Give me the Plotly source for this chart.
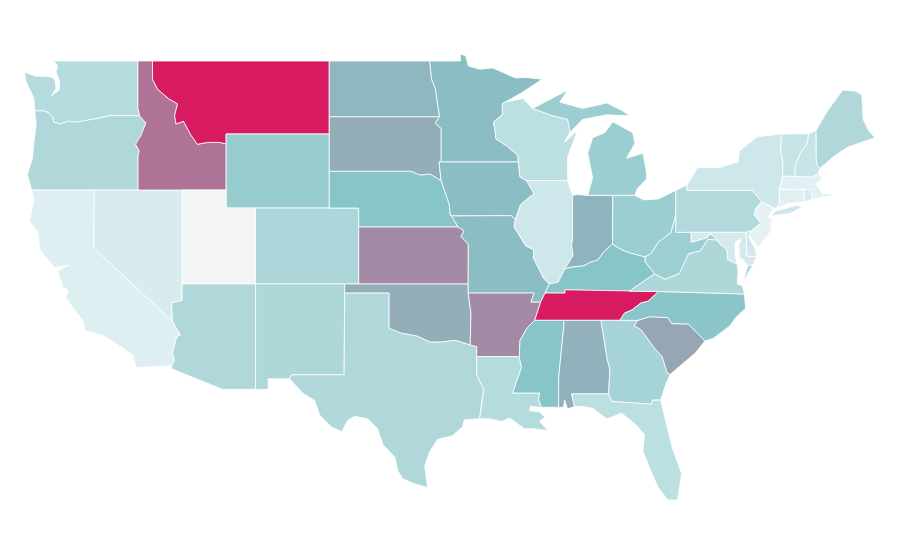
import numpy as np
import plotly.graph_objects as go
from plotly.colors import sample_colorscale

states = ['WA', 'OR', 'CA', 'NV', 'ID', 'MT', 'WY', 'UT', 'AZ', 'CO', 'NM', 'ND', 'SD', 'NE', 'KS', 'OK', 'TX',
          'MN', 'IA', 'MO', 'AR', 'LA', 'WI', 'IL', 'IN', 'MI', 'OH', 'KY', 'TN', 'MS', 'AL', 'GA', 'FL',
          'SC', 'NC', 'VA', 'WV', 'PA', 'NY', 'NJ', 'DE', 'MD', 'CT', 'RI', 'MA', 'VT', 'NH', 'ME']
values = [29, 31, 9, 12, 74, 100, 43, 0, 31, 33, 32, 54, 57, 50, 67, 57, 31,
          52, 52, 52, 67, 29, 25, 17, 55, 41, 41, 50, 100, 50, 56, 36, 25,
          59, 49, 32, 40, 30, 17, 6, 16, 14, 7, 14, 7, 20, 20, 31]

# the map's latitude spacing is not quite even, so latitudes go through this table
lat_marks = [25, 31, 37, 41, 42, 45, 49, 50]
lat_rows = [500, 393, 284, 208, 190, 134, 61, 43]

# shared borders, lon/lat
wa_or = [(-124.05, 46.27), (-123.45, 46.27), (-123.15, 46.18), (-122.85, 45.95), (-122.75, 45.65), (-122.3, 45.55),
         (-121.75, 45.7), (-121.2, 45.65), (-120.6, 45.73), (-119.95, 45.83), (-119.3, 45.93), (-118.98, 46.0), (-116.92, 46.0)]
or_id = [(-116.92, 46.0), (-116.5, 45.6), (-116.7, 45.2), (-116.85, 44.9), (-117.2, 44.45), (-117.05, 44.23),
         (-116.95, 44.1), (-117.03, 43.8), (-117.03, 42.0)]
id_mt = [(-116.05, 49.0), (-116.05, 48.0), (-115.7, 47.45), (-114.95, 46.93), (-114.35, 46.65), (-114.55, 46.0),
         (-114.45, 45.55), (-113.95, 45.7), (-113.45, 44.95), (-113.0, 44.45), (-112.3, 44.55), (-111.5, 44.55), (-111.05, 44.47)]
ca_az = [(-114.75, 32.5), (-114.55, 32.8), (-114.7, 33.2), (-114.4, 34.1), (-114.15, 34.2), (-114.45, 34.6), (-114.7, 34.95)]
tx_ok = [(-100.0, 34.56), (-99.2, 34.3), (-98.1, 34.13), (-97.2, 33.8), (-96.5, 33.8), (-95.5, 33.9), (-94.48, 33.64)]
ne_mo = [(-96.45, 42.49), (-96.1, 41.7), (-95.9, 41.2), (-95.85, 40.7), (-95.3, 40.0)]
ks_mo = [(-95.3, 40.0), (-94.9, 39.8), (-95.1, 39.5), (-94.61, 39.1), (-94.62, 37.0)]
tx_la = [(-94.04, 31.99), (-93.55, 31.2), (-93.7, 30.5), (-93.84, 29.55)]
ms_riv = [(-90.1, 35.0), (-90.6, 34.6), (-91.1, 33.9), (-91.15, 33.0)]
la_ms = [(-91.15, 33.0), (-91.0, 32.4), (-91.6, 31.0), (-89.75, 31.0), (-89.85, 30.65), (-89.65, 30.2)]
al_ga = [(-85.6, 35.0), (-85.18, 32.87), (-85.0, 32.3), (-85.05, 31.55), (-85.08, 30.95)]
ga_sc = [(-83.1, 35.0), (-83.35, 34.7), (-82.9, 34.5), (-82.0, 33.5), (-81.45, 33.0), (-81.1, 32.1), (-80.9, 32.03)]
nc_sc = [(-83.1, 35.0), (-82.3, 35.2), (-81.05, 35.15), (-80.8, 34.82), (-79.67, 34.8), (-78.55, 33.86)]
tn_nc = [(-84.32, 35.0), (-84.0, 35.4), (-83.5, 35.57), (-82.9, 35.95), (-82.4, 36.05), (-81.7, 36.59)]
mo_il = [(-91.42, 40.38), (-91.5, 40.0), (-90.7, 39.0), (-90.15, 38.8), (-90.2, 38.4), (-89.5, 37.3), (-89.1, 37.0)]
il_ky = [(-89.1, 37.0), (-88.5, 37.1), (-88.05, 37.8)]
in_ky = [(-88.05, 37.8), (-87.5, 37.9), (-86.8, 37.95), (-86.3, 38.15), (-85.8, 38.27), (-85.4, 38.7), (-84.85, 39.1)]
oh_ky = [(-84.85, 39.1), (-84.2, 38.8), (-83.65, 38.63), (-82.6, 38.42)]
oh_wv = [(-82.6, 38.42), (-82.2, 38.6), (-81.7, 39.2), (-80.85, 39.7), (-80.52, 40.64)]
ky_wv = [(-82.6, 38.42), (-82.6, 38.17), (-81.97, 37.54)]
wv_va = [(-81.97, 37.54), (-81.25, 37.25), (-80.3, 37.55), (-79.65, 38.6), (-78.85, 38.75), (-78.35, 39.35), (-77.72, 39.32)]
md_va = [(-77.72, 39.32), (-77.5, 39.1), (-77.05, 38.8), (-77.0, 38.3), (-76.35, 38.05)]
md_wv = [(-79.48, 39.72), (-79.48, 39.2), (-78.35, 39.45), (-78.2, 39.65), (-77.72, 39.32)]
ia_il = [(-90.65, 42.5), (-90.15, 41.8), (-91.05, 41.2), (-91.42, 40.38)]
mn_wi = [(-92.1, 46.75), (-92.3, 46.66), (-92.29, 46.07), (-92.9, 45.65), (-92.75, 45.0), (-92.75, 44.75), (-91.9, 44.3), (-91.25, 43.85), (-91.22, 43.5)]
ia_wi = [(-91.22, 43.5), (-91.1, 42.7), (-90.65, 42.5)]
wi_mi = [(-90.25, 46.4), (-88.88, 46.0), (-87.87, 45.8), (-87.73, 45.3), (-87.73, 45.07)]
sd_mn = [(-96.56, 45.94), (-96.85, 45.6), (-96.45, 45.3), (-96.45, 43.5)]
nd_mn = [(-97.23, 49.0), (-97.1, 48.0), (-96.85, 47.5), (-96.56, 45.94)]
ny_pa = [(-79.76, 41.99), (-75.35, 41.99), (-74.7, 41.36)]
pa_nj = [(-74.7, 41.36), (-75.1, 40.95), (-75.2, 40.65), (-74.75, 40.2), (-75.4, 39.8)]
ny_vt = [(-73.35, 45.0), (-73.4, 44.0), (-73.25, 43.6), (-73.27, 42.75)]
vt_nh = [(-71.5, 45.01), (-71.6, 44.5), (-72.05, 44.0), (-72.4, 43.3), (-72.46, 42.73)]


def rv(seg):
    return seg[::-1]


outlines = {
    'WA': [[(-117.04, 49.0), (-122.76, 49.0), (-122.5, 48.75), (-122.6, 48.4), (-122.35, 47.9), (-122.4, 47.4), (-122.9, 47.1),
            (-122.6, 47.5), (-122.65, 47.9), (-122.8, 48.1), (-123.2, 48.15), (-124.0, 48.17), (-124.73, 48.38),
            (-124.65, 47.9), (-124.3, 47.3), (-124.1, 46.95)] + wa_or + [(-117.04, 46.42)]],
    'OR': [rv(wa_or) + [(-123.95, 45.5), (-124.1, 44.6), (-124.2, 43.7), (-124.55, 42.84), (-124.25, 42.0), (-120.0, 42.0)] + rv(or_id)],
    'CA': [[(-120.0, 42.0), (-124.25, 42.0), (-124.1, 41.5), (-124.4, 40.3), (-123.85, 39.75), (-123.7, 38.8), (-122.7, 37.85),
            (-121.7, 38.0), (-122.5, 37.7), (-122.15, 36.85), (-121.8, 36.65), (-121.9, 36.2), (-120.8, 35.0),
            (-120.6, 34.4), (-119.5, 34.2), (-118.4, 33.65), (-117.4, 33.1), (-117.15, 32.4)] + ca_az + [(-120.05, 38.9)]],
    'NV': [[(-120.0, 42.0), (-114.04, 42.0), (-114.04, 36.1), (-114.75, 35.95), (-114.7, 34.95), (-120.05, 38.9)]],
    'ID': [[(-117.04, 49.0)] + id_mt + [(-111.05, 42.0), (-117.03, 42.0)] + rv(or_id) + [(-117.04, 46.42)]],
    'MT': [id_mt + [(-111.05, 45.0), (-104.05, 45.0), (-104.05, 49.0)]],
    'WY': [[(-111.05, 45.0), (-104.05, 45.0), (-104.05, 41.0), (-111.05, 41.0)]],
    'UT': [[(-114.04, 42.0), (-111.05, 42.0), (-111.05, 41.0), (-109.05, 41.0), (-109.05, 37.0), (-114.04, 37.0)]],
    'AZ': [[(-114.04, 37.0), (-109.05, 37.0), (-109.05, 31.2), (-111.3, 31.2), (-114.75, 32.33)] + ca_az + [(-114.75, 35.95), (-114.04, 36.1)]],
    'CO': [[(-109.05, 41.0), (-102.05, 41.0), (-102.05, 37.0), (-109.05, 37.0)]],
    'NM': [[(-109.05, 37.0), (-103.0, 37.0), (-103.04, 32.0), (-106.62, 32.0), (-106.74, 31.78), (-108.2, 31.78), (-108.2, 31.2), (-109.05, 31.2)]],
    'ND': [nd_mn + [(-104.05, 45.94), (-104.05, 49.0)]],
    'SD': [[(-104.05, 45.94)] + sd_mn + [(-96.6, 43.5), (-96.45, 42.49), (-97.2, 42.85), (-97.9, 42.8), (-98.5, 43.0), (-104.05, 43.0)]],
    'NE': [[(-104.05, 43.0), (-98.5, 43.0), (-97.9, 42.8), (-97.2, 42.85)] + ne_mo + [(-102.05, 40.0), (-102.05, 41.0), (-104.05, 41.0)]],
    'KS': [[(-102.05, 40.0)] + ks_mo + [(-102.05, 37.0)]],
    'OK': [[(-103.0, 37.0), (-94.62, 37.0), (-94.62, 36.5), (-94.43, 35.4)] + rv(tx_ok) + [(-100.0, 36.5), (-103.0, 36.5)]],
    'TX': [[(-103.0, 36.5), (-100.0, 36.5)] + tx_ok + [(-94.04, 33.55)] + tx_la +
           [(-94.87, 29.5), (-95.0, 29.1), (-95.7, 28.6), (-96.7, 28.4), (-97.24, 27.7), (-97.57, 26.9), (-97.37, 25.7), (-98.25, 25.9), (-99.06, 26.2),
            (-99.4, 26.65), (-99.6, 27.4), (-100.4, 28.1), (-100.77, 29.0), (-101.43, 29.54), (-102.3, 29.7), (-102.8, 29.47), (-103.2, 28.83),
            (-103.9, 29.1), (-104.7, 29.76), (-105.04, 30.58), (-105.86, 31.0), (-106.74, 31.78), (-106.62, 32.0), (-103.04, 32.0)]],
    'MN': [[(-97.23, 49.0), (-95.15, 49.0), (-95.15, 49.38), (-94.8, 49.3), (-94.6, 48.72), (-93.8, 48.55), (-92.95, 48.62), (-92.0, 48.3),
            (-91.4, 48.07), (-90.75, 48.1), (-89.6, 48.0), (-90.9, 47.3)] + mn_wi + rv(sd_mn) + rv(nd_mn)],
    'IA': [[(-96.45, 43.5), (-91.22, 43.5), (-91.1, 42.7)] + ia_il + [(-91.7, 40.6), (-95.77, 40.58), (-95.85, 40.7), (-95.9, 41.2), (-96.1, 41.7), (-96.45, 42.49), (-96.6, 43.5)]],
    'MO': [[(-95.77, 40.58), (-91.7, 40.6)] + mo_il + [(-89.4, 36.5), (-89.7, 36.0), (-90.37, 36.0), (-90.15, 36.5), (-94.62, 36.5)] + rv(ks_mo) + [(-95.85, 40.7)]],
    'AR': [[(-94.62, 36.5), (-90.15, 36.5), (-90.37, 36.0), (-89.7, 36.0)] + ms_riv + [(-94.04, 33.0), (-94.04, 33.55), (-94.48, 33.64), (-94.43, 35.4)]],
    'LA': [[(-94.04, 33.0)] + la_ms + [(-90.4, 30.25), (-90.45, 30.0), (-89.8, 29.95), (-89.4, 29.65), (-89.77, 29.4), (-89.2, 28.9), (-90.25, 29.0), (-90.8, 29.0),
                                       (-91.8, 29.6), (-92.35, 29.4), (-93.16, 29.55)] + rv(tx_la)],
    'WI': [[(-92.1, 46.75), (-90.9, 46.95)] + wi_mi + [(-88.07, 44.55), (-87.2, 45.2), (-87.87, 43.75), (-87.87, 42.5)] + rv(ia_wi) + rv(mn_wi)],
    'IL': [[(-90.65, 42.5), (-87.87, 42.5), (-87.55, 41.75), (-87.53, 41.7), (-87.53, 39.35), (-87.6, 39.1), (-87.5, 38.5), (-88.05, 37.8)] + rv(il_ky) + rv(mo_il) + rv(ia_il)],
    'IN': [[(-87.53, 41.7), (-87.2, 41.75), (-86.5, 41.7), (-84.8, 41.7), (-84.82, 39.1)] + rv(in_ky) + [(-87.5, 38.5), (-87.6, 39.1), (-87.53, 39.35)]],
    'MI': [[(-86.5, 41.7), (-84.8, 41.7), (-83.3, 41.7), (-83.15, 42.05), (-82.5, 42.6), (-82.5, 42.9), (-82.75, 43.97), (-83.87, 43.7), (-83.3, 44.5),
            (-83.45, 45.07), (-84.8, 45.67), (-85.35, 45.07), (-86.17, 44.8), (-86.5, 43.97), (-86.17, 42.65)],
           rv(wi_mi) + [(-88.55, 47.14), (-87.87, 47.4), (-88.4, 46.75), (-86.85, 46.4), (-85.2, 46.7), (-84.2, 46.3), (-83.65, 46.0), (-85.2, 46.05), (-86.85, 45.8)]],
    'OH': [[(-84.8, 41.7), (-83.3, 41.7), (-82.7, 41.45), (-81.7, 41.5), (-80.52, 41.98)] + rv(oh_wv) + rv(oh_ky) + [(-84.82, 39.1)]],
    'KY': [[(-89.4, 36.5), (-89.1, 37.0)] + il_ky[1:] + in_ky[1:] + oh_ky[1:] + ky_wv[1:] + [(-83.68, 36.6), (-86.5, 36.65), (-88.05, 36.68), (-88.05, 36.5)]],
    'TN': [[(-90.1, 35.0), (-89.7, 36.0), (-89.4, 36.5), (-88.05, 36.5), (-88.05, 36.68), (-86.5, 36.65), (-83.68, 36.6)] + rv(tn_nc)],
    'MS': [[(-90.1, 35.0), (-88.2, 35.0), (-88.1, 34.9), (-88.47, 31.9), (-88.48, 30.2)] + rv(la_ms) + rv(ms_riv)],
    'AL': [[(-88.2, 35.0)] + al_ga + [(-87.6, 30.95), (-87.4, 30.25), (-87.87, 30.1), (-88.07, 30.6), (-88.15, 30.2), (-88.48, 30.2), (-88.47, 31.9), (-88.1, 34.9)]],
    'GA': [al_ga + [(-84.87, 30.53), (-82.17, 30.37), (-82.1, 30.6), (-81.55, 30.6), (-81.2, 31.5)] + rv(ga_sc)],
    'FL': [[(-87.6, 30.95), (-85.08, 30.95), (-84.87, 30.53), (-82.17, 30.37), (-82.1, 30.6), (-81.55, 30.6), (-81.15, 29.2), (-80.75, 27.9), (-80.13, 26.48),
            (-80.4, 25.0), (-81.07, 25.0), (-81.75, 25.74), (-82.3, 26.8), (-82.75, 27.73), (-82.65, 28.67), (-83.3, 29.27), (-84.2, 29.87),
            (-85.2, 29.54), (-86.16, 30.14), (-86.85, 30.25), (-87.4, 30.25)]],
    'SC': [nc_sc + [(-79.2, 33.2), (-79.9, 32.7)] + rv(ga_sc)],
    'NC': [tn_nc + [(-75.87, 36.45), (-75.78, 35.66), (-76.4, 35.2), (-76.87, 34.68), (-78.0, 34.0)] + rv(nc_sc)],
    'VA': [[(-83.68, 36.6), (-81.7, 36.59), (-75.87, 36.45), (-76.0, 36.9), (-76.35, 37.0), (-76.3, 37.6)] + rv(md_va) + rv(wv_va),
           [(-75.25, 38.03), (-75.65, 37.95), (-75.95, 37.15)]],
    'WV': [[(-80.52, 40.64), (-80.52, 39.72)] + md_wv + rv(wv_va) + rv(ky_wv) + oh_wv[1:]],
    'PA': [[(-80.52, 41.98), (-79.76, 42.27)] + ny_pa + pa_nj + [(-75.75, 39.72), (-80.52, 39.72), (-80.52, 40.64)]],
    'NY': [[(-79.76, 42.27), (-79.05, 43.2), (-77.55, 43.2), (-76.3, 43.5), (-76.2, 44.1), (-75.0, 44.85)] + ny_vt +
           [(-73.5, 42.05), (-73.5, 41.3), (-73.65, 41.0), (-73.9, 41.0)] + rv(ny_pa),
           [(-74.0, 40.6), (-73.75, 40.85), (-72.3, 41.15), (-71.9, 41.07), (-72.8, 40.7)]],
    'NJ': [[(-74.7, 41.36), (-73.9, 41.0), (-74.25, 40.5), (-74.0, 40.4), (-74.1, 39.75), (-74.9, 38.95), (-75.5, 39.5), (-75.4, 39.8)] + rv(pa_nj)[1:]],
    'DE': [[(-75.75, 39.72), (-75.4, 39.8), (-75.55, 39.45), (-75.1, 38.8), (-75.05, 38.45), (-75.7, 38.46)]],
    'MD': [[(-79.48, 39.72), (-75.75, 39.72), (-75.7, 38.46), (-75.05, 38.45), (-75.25, 38.03), (-75.65, 37.95), (-75.9, 38.25), (-76.2, 38.4), (-76.25, 39.0),
            (-76.1, 39.4), (-76.5, 39.2), (-76.5, 38.5)] + rv(md_va) + rv(md_wv)[1:]],
    'CT': [[(-73.5, 42.05), (-71.8, 42.02), (-71.8, 41.35), (-72.9, 41.25), (-73.65, 41.0), (-73.5, 41.3)]],
    'RI': [[(-71.8, 42.02), (-71.38, 42.02), (-71.2, 41.5), (-71.8, 41.35)]],
    'MA': [[(-73.27, 42.75), (-72.46, 42.73), (-71.3, 42.7), (-70.85, 42.87), (-70.6, 42.65), (-71.0, 42.3), (-70.55, 41.8), (-70.0, 41.8), (-70.05, 42.05),
            (-69.95, 41.67), (-70.6, 41.6), (-71.2, 41.5), (-71.38, 42.02), (-71.8, 42.02), (-73.5, 42.05)]],
    'VT': [[(-73.35, 45.0)] + vt_nh + rv(ny_vt)[:-1]],
    'NH': [[(-71.5, 45.01), (-71.0, 45.2), (-70.98, 43.4), (-70.75, 43.15), (-70.85, 42.87), (-71.3, 42.7)] + rv(vt_nh)],
    'ME': [[(-71.0, 45.2), (-70.2, 46.3), (-69.2, 47.4), (-68.3, 47.35), (-67.9, 47.14), (-67.8, 45.8), (-67.45, 45.2), (-67.0, 44.8),
            (-68.85, 44.3), (-69.8, 43.8), (-70.75, 43.15), (-70.98, 43.4)]],
}

colorscale = [[0, '#f2f4f5'], [0.09, '#deeff2'], [0.5, '#88c5c8'], [1, '#d81b60']]
colors = dict(zip(states, sample_colorscale(colorscale, [v / 100 for v in values])))

fig = go.Figure()
for st, val in zip(states, values):
    for ring in outlines[st]:
        pts = ring + ring[:1]
        fig.add_trace(go.Scatter(
            x=[p[0] for p in pts], y=np.interp([p[1] for p in pts], lat_marks, lat_rows),
            mode='lines', fill='toself', fillcolor=colors[st],
            line=dict(color='white', width=0.8),
            name=st, text=f'{st}: {val}', hoverinfo='text', showlegend=False,
        ))

fig.update_xaxes(range=[-125.86, -64.76], visible=False)
fig.update_yaxes(range=[568, 8], visible=False)
fig.update_layout(margin=dict(l=0, r=0, t=0, b=0), width=900, height=560,
                  paper_bgcolor='white', plot_bgcolor='white')
fig.write_html("out.html")
